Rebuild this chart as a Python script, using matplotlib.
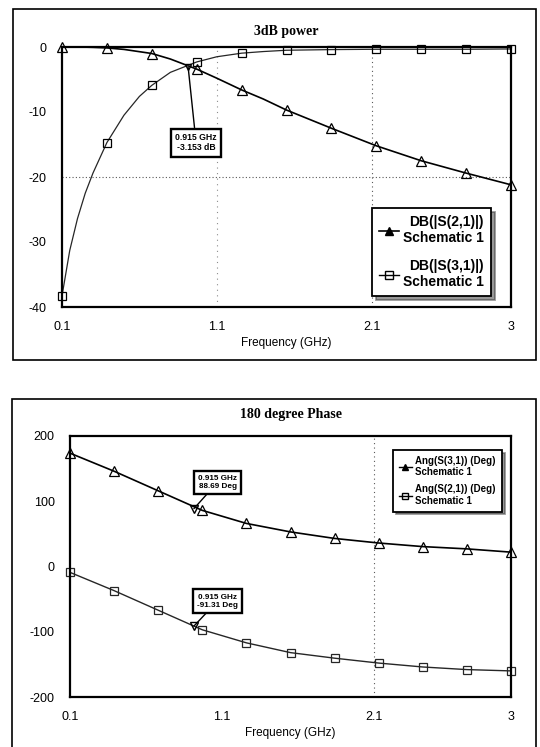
import matplotlib
matplotlib.use("Agg")
import matplotlib.pyplot as plt
from matplotlib.patches import Rectangle

# ---- data ----
freq_marks = [0.1, 0.39, 0.68, 0.97, 1.26, 1.55, 1.84, 2.13, 2.42, 2.71, 3.0]

# 3dB power (dB): line points + marker points
freq_line = [0.1, 0.15, 0.2, 0.25, 0.3, 0.39, 0.5, 0.6, 0.68, 0.8, 0.97, 1.1,
             1.26, 1.4, 1.55, 1.84, 2.13, 2.42, 2.71, 3.0]
s21_db_line = [0.0, 0.0, -0.01, -0.02, -0.05, -0.14, -0.37, -0.72, -1.0, -1.85, -3.4, -4.8,
               -6.6, -8.0, -9.7, -12.5, -15.2, -17.5, -19.4, -21.2]
s31_db_line = [-38.3, -31.3, -26.4, -22.5, -19.4, -14.7, -10.5, -7.6, -5.9, -3.9, -2.3, -1.5,
               -0.95, -0.7, -0.5, -0.4, -0.35, -0.35, -0.35, -0.3]
s21_db_marks = [0.0, -0.14, -1.0, -3.4, -6.6, -9.7, -12.5, -15.2, -17.5, -19.4, -21.2]
s31_db_marks = [-38.3, -14.7, -5.9, -2.3, -0.95, -0.5, -0.4, -0.35, -0.35, -0.35, -0.3]

# 180 degree phase (deg)
ang_s31 = [173.7, 146, 116, 86, 66, 53, 43, 36, 30.5, 27, 22]
ang_s21 = [-9, -37, -67, -97, -117, -132, -140.5, -148, -154, -158, -160]

xticks = [0.1, 1.1, 2.1, 3]
xtick_labels = ["0.1", "1.1", "2.1", "3"]
db_ticks = [0, -10, -20, -30, -40]
deg_ticks = [200, 100, 0, -100, -200]

mk_freq = 0.915
mk_db = -3.153
mk_ang1 = 88.69
mk_ang2 = -91.31

W, H = 540, 747
fig = plt.figure(figsize=(W / 100, H / 100), dpi=100)
fig.patch.set_facecolor("white")


def fr(x0, y0, x1, y1):
    # pixel box -> figure fraction rect
    return [x0 / W, 1 - y1 / H, (x1 - x0) / W, (y1 - y0) / H]


sans = "Liberation Sans"
serif = "Liberation Serif"

# outer panel frames
fig.add_artist(Rectangle((13 / W, 1 - 360 / H), 523 / W, 351 / H, transform=fig.transFigure,
                         fill=False, lw=1.2, ec="black"))
fig.add_artist(Rectangle((12 / W, 1 - 760 / H), 524 / W, 361 / H, transform=fig.transFigure,
                         fill=False, lw=1.2, ec="black"))


def style_axes(ax, yticks):
    ax.set_xlim(0.1, 3)
    ax.set_xticks(xticks)
    ax.set_xticklabels(xtick_labels)
    ax.set_yticks(yticks)
    ax.tick_params(length=0, labelsize=9)
    ax.tick_params(axis="x", pad=10)
    ax.tick_params(axis="y", pad=11)
    for lab in ax.get_xticklabels() + ax.get_yticklabels():
        lab.set_family(sans)
    for sp in ax.spines.values():
        sp.set_linewidth(1.6)
    ax.set_xlabel("Frequency (GHz)", fontsize=8.5, family=sans, labelpad=3)


box = dict(boxstyle="square,pad=0.5", fc="white", ec="black", lw=1.7)
leader = dict(arrowstyle="-", color="black", lw=1.0, shrinkA=0, shrinkB=0)

# ---------------- top: 3dB power ----------------
ax1 = fig.add_axes(fr(62, 47, 511, 307))
style_axes(ax1, db_ticks)
ax1.set_ylim(-40, 0)
ax1.set_yticklabels([str(t) for t in db_ticks])
ax1.set_title("3dB power", family=serif, fontweight="bold", fontsize=10, pad=9)

ax1.axhline(-20, color="0.35", lw=0.8, ls=(0, (1, 2)))
ax1.axvline(1.1, color="0.55", lw=0.8, ls=(0, (1, 4)))
ax1.axvline(2.1, color="0.35", lw=0.8, ls=(0, (1, 3)))

ax1.plot(freq_line, s21_db_line, color="black", lw=1.2)
ax1.plot(freq_line, s31_db_line, color="0.15", lw=0.9)
ax1.plot(freq_marks, s21_db_marks, ls="none", marker="^", ms=7, mfc="none", mec="black",
         mew=0.9, clip_on=False)
ax1.plot(freq_marks, s31_db_marks, ls="none", marker="s", ms=6, mfc="none", mec="black",
         mew=0.9, clip_on=False)
h1, = ax1.plot([], [], color="black", lw=1.2, marker="^", ms=6, mfc="black")
h2, = ax1.plot([], [], color="black", lw=1.0, marker="s", ms=6, mfc="none")
ax1.plot([mk_freq], [mk_db], marker="v", ms=5, mfc="none", mec="black")

ax1.annotate(f"{mk_freq} GHz\n{mk_db} dB", xy=(mk_freq, mk_db), xytext=(0.966, -14.7),
             ha="center", va="center", fontsize=6.2, family=sans, fontweight="bold",
             bbox=box, arrowprops=leader)

leg1 = ax1.legend([h1, h2], ["DB(|S(2,1)|)\nSchematic 1", "DB(|S(3,1)|)\nSchematic 1"],
                  loc="lower right", bbox_to_anchor=(0.97, 0.015), fancybox=False,
                  edgecolor="black", framealpha=1, handlelength=1.4, handletextpad=0.3,
                  borderpad=0.5, labelspacing=1.0, shadow={"color": "0.2", "ox": 3, "oy": -3},
                  prop={"family": sans, "weight": "bold", "size": 10})
leg1.get_frame().set_linewidth(1.3)
for t in leg1.get_texts():
    t.set_ha("right")

# ---------------- bottom: 180 degree phase ----------------
ax2 = fig.add_axes(fr(70, 436, 511, 697))
style_axes(ax2, deg_ticks)
ax2.set_ylim(-200, 200)
ax2.set_yticklabels([str(t) for t in deg_ticks])
ax2.set_title("180 degree Phase", family=serif, fontweight="bold", fontsize=10, pad=13)

ax2.axvline(2.1, color="0.35", lw=0.8, ls=(0, (1, 3)))

ax2.plot(freq_marks, ang_s31, color="black", lw=1.2, marker="^", ms=7, mfc="none",
         mew=0.9, clip_on=False)
ax2.plot(freq_marks, ang_s21, color="0.15", lw=1.0, marker="s", ms=6, mfc="none",
         mew=0.9, clip_on=False)
g1, = ax2.plot([], [], color="black", lw=1.0, marker="^", ms=5, mfc="black")
g2, = ax2.plot([], [], color="black", lw=1.0, marker="s", ms=5, mfc="none")
ax2.plot([mk_freq, mk_freq], [mk_ang1, mk_ang2], ls="none", marker="v", ms=6, mfc="none",
         mec="black")

ax2.annotate(f"{mk_freq} GHz\n{mk_ang1} Deg", xy=(mk_freq, mk_ang1), xytext=(1.07, 129),
             ha="center", va="center", fontsize=5.9, family=sans, fontweight="bold",
             bbox=box, arrowprops=leader)
ax2.annotate(f"{mk_freq} GHz\n{mk_ang2} Deg", xy=(mk_freq, mk_ang2), xytext=(1.07, -53),
             ha="center", va="center", fontsize=5.9, family=sans, fontweight="bold",
             bbox=box, arrowprops=leader)

leg2 = ax2.legend([g1, g2], ["Ang(S(3,1)) (Deg)\nSchematic 1", "Ang(S(2,1)) (Deg)\nSchematic 1"],
                  loc="upper right", bbox_to_anchor=(0.99, 0.965), fancybox=False,
                  edgecolor="black", framealpha=1, handlelength=1.3, handletextpad=0.4,
                  borderpad=0.6, labelspacing=0.7, shadow={"color": "0.2", "ox": 2, "oy": -2},
                  prop={"family": sans, "weight": "bold", "size": 7})
leg2.get_frame().set_linewidth(1.3)

fig.savefig("out.png", dpi=100)
